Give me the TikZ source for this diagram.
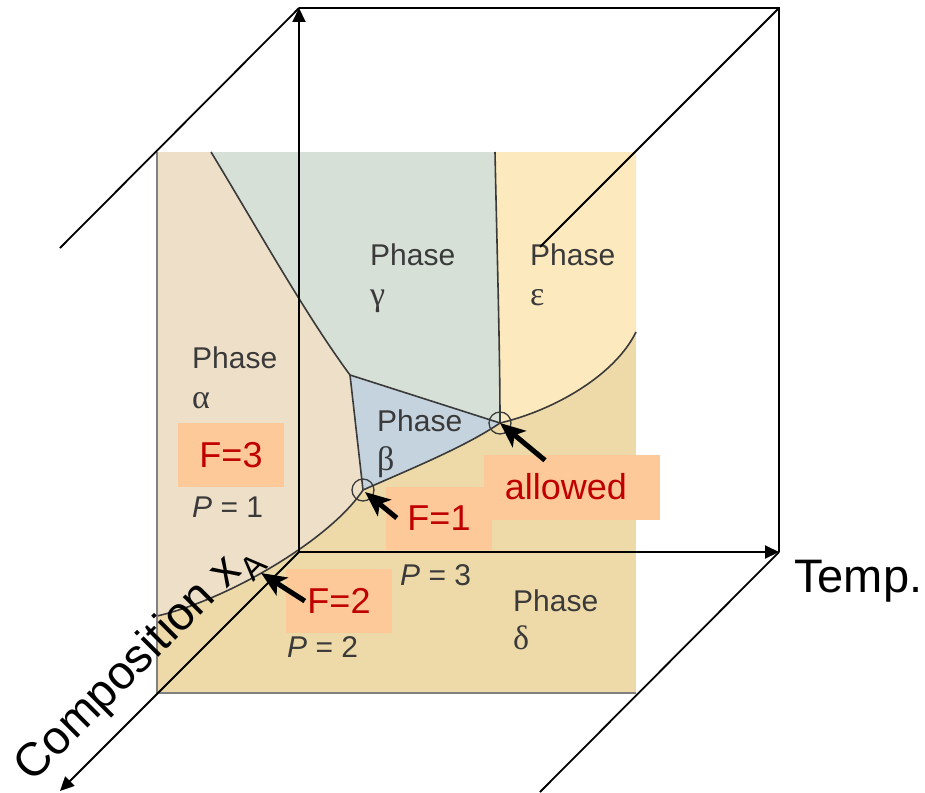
\documentclass[tikz,border=0pt]{standalone}
\usepackage{fontspec}
\setmainfont{Liberation Sans}
\newfontfamily\grk{Liberation Serif}
\usetikzlibrary{arrows.meta,positioning}
\definecolor{alphac}{RGB}{238,223,201}
\definecolor{gammac}{RGB}{214,224,214}
\definecolor{epsc}{RGB}{253,233,190}
\definecolor{betac}{RGB}{196,211,222}
\definecolor{deltac}{RGB}{237,218,168}
\definecolor{tagc}{RGB}{253,201,152}
\definecolor{tagred}{RGB}{192,0,0}
\definecolor{lblgray}{RGB}{58,58,58}

\begin{document}
\begin{tikzpicture}[x=1pt,y=-1pt,
  axis/.style={line width=2pt,-{Triangle[length=14pt,width=13pt]}},
  edge/.style={line width=1.8pt},
  bound/.style={line width=1.6pt,draw=lblgray},
  phase/.style={inner sep=0,anchor=base west,text=lblgray,font=\fontsize{30}{36}\selectfont},
  grkl/.style={phase,font=\fontsize{34}{40}\grk},
  tag/.style={fill=tagc,text=tagred,inner sep=0,font=\fontsize{36}{43}\selectfont},
  fat/.style={line width=5pt,-{Stealth[length=25pt,width=21pt,inset=6pt]}},
  big/.style={inner sep=0,font=\fontsize{47}{56}\selectfont}]
\useasboundingbox (0,0) rectangle (925,792);

% cube corners
\coordinate (o) at (299,552);
\coordinate (top) at (299,8);
\coordinate (tr) at (779,8);
\coordinate (tend) at (779,552);
\coordinate (cend) at (60,791);
\coordinate (tl2) at (60,248);
\coordinate (tr2) at (540,247);
\coordinate (br2) at (540,792);

% phase diagram points
\coordinate (a1) at (211,152);
\coordinate (g1) at (495,152);
\coordinate (e1) at (636,332);
\coordinate (l1) at (157,616);
\coordinate (t1) at (350,375);
\coordinate (t2) at (500,423);
\coordinate (t3) at (363,490);
\coordinate (b2) at (261,573);

\fill[deltac] (157,152) rectangle (636,693);
\fill[alphac] (157,152) -- (a1) .. controls (256,226) and (305,314) .. (t1)
    -- (t3) .. controls (330,540) and (227,600) .. (l1) -- cycle;
\fill[gammac] (a1) .. controls (256,226) and (305,314) .. (t1)
    -- (t2) .. controls (500,350) and (497,250) .. (g1) -- cycle;
\fill[epsc] (g1) .. controls (497,250) and (500,350) .. (t2)
    .. controls (555,410) and (615,375) .. (e1) -- (636,152) -- cycle;
\fill[betac] (t1) -- (t3) .. controls (408,470) and (465,447) .. (t2) -- cycle;

\draw[bound] (a1) .. controls (256,226) and (305,314) .. (t1) -- (t2);
\draw[bound] (t1) -- (t3);
\draw[bound] (g1) .. controls (497,250) and (500,350) .. (t2)
    .. controls (555,410) and (615,375) .. (e1);
\draw[bound] (l1) .. controls (227,600) and (330,540) .. (t3)
    .. controls (408,470) and (465,447) .. (t2);
\draw[bound,line width=1.3pt] (t3) circle (11pt) (t2) circle (11pt);
\draw[line width=1.5pt,gray] (157,152) -- (157,693) -- (636,693);

\node[phase] (pg) at (370,265) {Phase};
\node[grkl] (gg) at ([yshift=-40pt]pg.base west) {γ};
\node[phase] (pe) at (530,265) {Phase};
\node[grkl] (ge) at ([yshift=-40pt]pe.base west) {ε};
\node[phase] (pa) at (192,368) {Phase};
\node[grkl] (ga) at ([yshift=-40pt]pa.base west) {α};
\node[phase] (pb) at (377,431) {Phase};
\node[grkl] (gb) at ([yshift=-39pt]pb.base west) {β};
\node[phase] (pd) at (513,611) {Phase};
\node[grkl] (gd) at ([yshift=-38pt]pd.base west) {δ};
\node[phase] (n1) at (192,517) {\textit{P} = 1};
\node[phase] (n3) at (400,585) {\textit{P} = 3};
\node[phase] (n2) at (287,657) {\textit{P} = 2};

% axes and box
\draw[axis] (o) -- (top);
\draw[axis] (o) -- (tend);
\draw[axis] (o) -- (cend);
\draw[edge] (top) -- (tr) -- (tend);
\draw[edge] (top) -- (tl2);
\draw[edge] (tr) -- (tr2);
\draw[edge] (tend) -- (br2);
\node[big,anchor=base west] (temp) at (794,592) {Temp.};
\node[big,anchor=base,rotate=45] (comp) at (146,670) {Composition x\textsubscript{A}};

% degrees of freedom
\node[tag,minimum width=106pt,minimum height=64pt] (f3) at (231,455) {F=3};
\node[tag,minimum width=176pt,minimum height=65pt] (al) at (572,487) {allowed\kern12pt};
\node[tag,minimum width=106pt,minimum height=63pt] (f1) at (439,518) {F=1};
\node[tag,minimum width=106pt,minimum height=64pt] (f2) at (339,601) {F=2};
\draw[fat] ([xshift=11pt]f1.west) -- ([shift={(2pt,-2pt)}]t3);
\draw[fat] ([shift={(-27pt,-6pt)}]al.north) -- (t2);
\draw[fat] ([xshift=19pt]f2.west) -- (b2);
\end{tikzpicture}
\end{document}
